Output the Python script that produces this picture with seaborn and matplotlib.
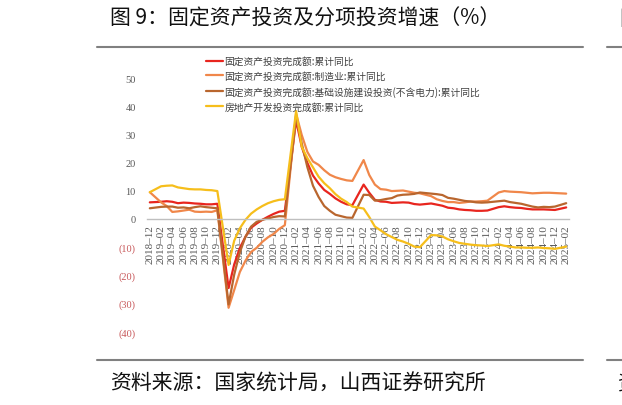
import pandas as pd
import numpy as np
import seaborn as sns
import matplotlib.pyplot as plt
from matplotlib.lines import Line2D

# months shown on the axis: 2018-12 .. 2025-02 (January has no release)
months = pd.period_range("2018-12", "2025-02", freq="M")
data_months = [m for m in months if m.month != 1]

fai = [5.9,
       6.1, 6.3, 6.1, 5.6, 5.8, 5.7, 5.5, 5.4, 5.2, 5.2, 5.4,
       -24.5, -16.1, -10.3, -6.3, -3.1, -1.6, -0.3, 0.8, 1.8, 2.6, 2.9,
       35.0, 25.6, 19.9, 15.4, 12.6, 10.3, 8.9, 7.3, 6.1, 5.2, 4.9,
       12.2, 9.3, 6.8, 6.2, 6.1, 5.7, 5.8, 5.9, 5.8, 5.3, 5.1,
       5.5, 5.1, 4.7, 4.0, 3.8, 3.4, 3.2, 3.1, 2.9, 2.9, 3.0,
       4.2, 4.5, 4.2, 4.0, 3.9, 3.6, 3.4, 3.4, 3.4, 3.3, 3.2,
       4.1]
manu = [9.5,
        5.9, 4.6, 2.5, 2.7, 3.0, 3.3, 2.6, 2.5, 2.6, 2.5, 3.1,
        -31.5, -25.2, -18.8, -14.8, -11.7, -10.2, -8.1, -6.5, -5.3, -3.5, -2.2,
        37.3, 29.8, 23.8, 20.4, 19.2, 17.3, 15.7, 14.8, 14.2, 13.7, 13.5,
        20.9, 15.6, 12.2, 10.6, 10.4, 9.9, 10.0, 10.1, 9.7, 9.3, 9.1,
        8.1, 7.0, 6.4, 6.0, 6.0, 5.7, 5.9, 6.2, 6.2, 6.3, 6.5,
        9.4, 9.9, 9.7, 9.6, 9.5, 9.3, 9.1, 9.2, 9.3, 9.3, 9.2,
        9.0]
infra = [3.8,
         4.3, 4.4, 4.4, 4.0, 4.1, 3.8, 4.2, 4.5, 4.2, 4.0, 3.8,
         -30.3, -19.7, -11.8, -6.3, -2.7, -1.0, -0.3, 0.2, 0.7, 1.0, 0.9,
         36.6, 26.8, 18.4, 11.8, 7.8, 4.6, 2.9, 1.5, 1.0, 0.5, 0.4,
         8.6, 8.5, 6.5, 6.7, 7.1, 7.4, 8.3, 8.6, 8.7, 8.9, 9.4,
         9.0, 8.8, 8.5, 7.5, 7.2, 6.8, 6.4, 6.2, 5.9, 5.8, 5.9,
         6.3, 6.5, 6.0, 5.7, 5.4, 4.9, 4.4, 4.1, 4.3, 4.2, 4.4,
         5.6]
estate = [9.5,
          11.6, 11.8, 11.9, 11.2, 10.9, 10.6, 10.5, 10.5, 10.3, 10.2, 9.9,
          -16.3, -7.7, -3.3, -0.3, 1.9, 3.4, 4.6, 5.6, 6.3, 6.8, 7.0,
          38.3, 25.6, 21.6, 18.3, 15.0, 12.7, 10.9, 8.8, 7.2, 6.0, 4.4,
          3.7, 0.7, -2.7, -4.0, -5.4, -6.4, -7.4, -8.0, -8.8, -9.8, -10.0,
          -5.7, -5.8, -6.2, -7.2, -7.9, -8.5, -8.8, -9.1, -9.3, -9.4, -9.6,
          -9.0, -9.5, -9.8, -10.1, -10.1, -10.2, -10.2, -10.1, -10.3, -10.4, -10.6,
          -9.8]

names = ["固定资产投资完成额:累计同比",
         "固定资产投资完成额:制造业:累计同比",
         "固定资产投资完成额:基础设施建设投资(不含电力):累计同比",
         "房地产开发投资完成额:累计同比"]
colors = ["#E8251E", "#F0874A", "#B9662E", "#F6BE1B"]

y_ticks = [-40, -30, -20, -10, 0, 10, 20, 30, 40, 50]
y_labels = ["(40)", "(30)", "(20)", "(10)", "0", "10", "20", "30", "40", "50"]

idx = [months.get_loc(m) for m in data_months]
rows = []
for name, vals in zip(names, [fai, manu, infra, estate]):
    for i, v in zip(idx, vals):
        rows.append({"x": i, "val": v, "series": name})
df = pd.DataFrame(rows)

sns.set_style("white")
plt.rcParams["font.family"] = ["Noto Sans CJK SC", "DejaVu Sans"]

fig = plt.figure(figsize=(6.22, 4.06), dpi=100)
W, H = 622, 406
ax = fig.add_axes([147 / W, 1 - 338.4 / H, 422 / W, (338.4 - 62.1) / H])

sns.lineplot(data=df, x="x", y="val", hue="series", hue_order=names,
             palette=colors, linewidth=1.6, ax=ax, legend=True)

ax.set_xlim(-0.5, len(months) - 0.5)
ax.set_ylim(-42, 56)
ax.set_xlabel("")
ax.set_ylabel("")

for s in ["left", "top", "right"]:
    ax.spines[s].set_visible(False)
ax.spines["bottom"].set_position(("data", 0))
ax.spines["bottom"].set_color("#BFBFBF")
ax.spines["bottom"].set_linewidth(1)

xt = list(range(0, len(months), 2))
ax.set_xticks(xt)
ax.set_xticklabels([months[i].strftime("%Y") + "–" + months[i].strftime("%m") for i in xt],
                   rotation=90, fontsize=8, family="Liberation Serif", color="#595959")
ax.tick_params(axis="x", direction="out", length=3, color="#BFBFBF", pad=1)

ax.set_yticks(y_ticks)
ax.set_yticklabels(y_labels, fontsize=7.5, family="Liberation Serif")
for lab, v in zip(ax.get_yticklabels(), y_ticks):
    lab.set_color("#C8585A" if v < 0 else "#595959")
ax.tick_params(axis="y", length=0, pad=8)
ax.grid(False)

handles, labels = ax.get_legend_handles_labels()
ax.legend(handles, labels, loc="upper left", bbox_to_anchor=(206 / W, 1 - 57 / H),
          bbox_transform=fig.transFigure, frameon=False, fontsize=7,
          handlelength=1.7, handletextpad=0.2, labelspacing=0.5,
          borderpad=0, borderaxespad=0, labelcolor="#404040")

# page decorations
fig.text(110 / W, 1 - 19 / H, "图 9：固定资产投资及分项投资增速（%）",
         fontsize=15, va="center", ha="left", color="#111111")
fig.text(619 / W, 1 - 19 / H, "图", fontsize=15, va="center", ha="left", color="#111111")
fig.text(110 / W, 1 - 384 / H, "资料来源：国家统计局，山西证券研究所",
         fontsize=15, va="center", ha="left", color="#111111")
fig.text(617 / W, 1 - 384 / H, "资", fontsize=15, va="center", ha="left", color="#111111")
for yy in [48, 361]:
    fig.add_artist(Line2D([97 / W, 583 / W], [1 - yy / H] * 2, color="#808080", lw=1.5))
    fig.add_artist(Line2D([607 / W, 1], [1 - yy / H] * 2, color="#808080", lw=1.5))

fig.savefig("out.png", dpi=100)
